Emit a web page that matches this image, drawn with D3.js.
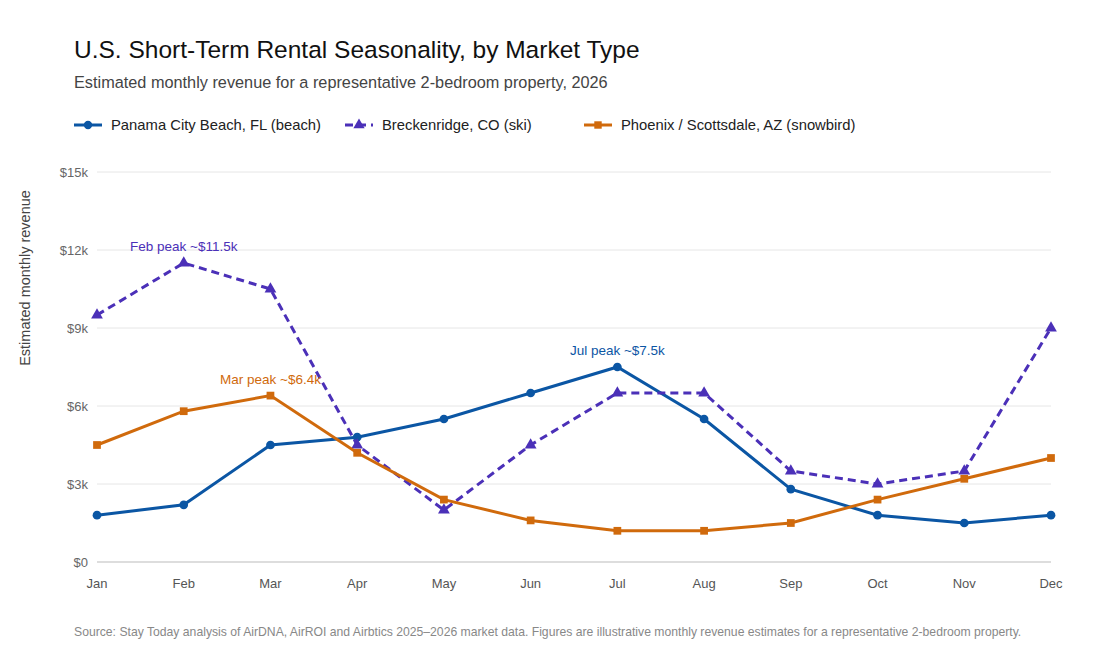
<!DOCTYPE html>
<html>
<head>
<meta charset="utf-8">
<script src="https://d3js.org/d3.v7.min.js"></script>
<style>
  body { margin: 0; background: #fff; }
  svg text { font-family: "Liberation Sans", Arial, sans-serif; }
</style>
</head>
<body>
<div id="chart"></div>
<script>
var months = ["Jan","Feb","Mar","Apr","May","Jun","Jul","Aug","Sep","Oct","Nov","Dec"];
var beach = [1.8, 2.2, 4.5, 4.8, 5.5, 6.5, 7.5, 5.5, 2.8, 1.8, 1.5, 1.8];
var ski = [9.5, 11.5, 10.5, 4.5, 2.0, 4.5, 6.5, 6.5, 3.5, 3.0, 3.5, 9.0];
var snowbird = [4.5, 5.8, 6.4, 4.2, 2.4, 1.6, 1.2, 1.2, 1.5, 2.4, 3.2, 4.0];
var yTicks = [0, 3, 6, 9, 12, 15];
var yTickLabels = ["$0", "$3k", "$6k", "$9k", "$12k", "$15k"];

var series = [
  { name: "Panama City Beach, FL (beach)", vals: beach, color: "#0b56a4", dash: null, shape: d3.symbolCircle, ann: { i: 6, text: "Jul peak ~$7.5k" } },
  { name: "Breckenridge, CO (ski)", vals: ski, color: "#4b30b8", dash: "8,5", shape: d3.symbolTriangle, ann: { i: 1, text: "Feb peak ~$11.5k" } },
  { name: "Phoenix / Scottsdale, AZ (snowbird)", vals: snowbird, color: "#d06a0c", dash: null, shape: d3.symbolSquare, ann: { i: 2, text: "Mar peak ~$6.4k" } }
];

var W = 1100, H = 660;
var svg = d3.select("#chart").append("svg").attr("width", W).attr("height", H);

var x = d3.scalePoint().domain(months).range([97, 1051]);
var y = d3.scaleLinear().domain([0, 15]).range([562, 172]);

svg.append("text").attr("x", 74).attr("y", 58).attr("font-size", 24.5).attr("fill", "#111")
  .text("U.S. Short-Term Rental Seasonality, by Market Type");
svg.append("text").attr("x", 74).attr("y", 88).attr("font-size", 16.3).attr("fill", "#444")
  .text("Estimated monthly revenue for a representative 2-bedroom property, 2026");

// legend
var legX = [74, 345, 584];
series.forEach(function(s, k) {
  var g = svg.append("g").attr("transform", "translate(" + legX[k] + ",125)");
  g.append("line").attr("x1", 0).attr("x2", 28).attr("stroke", s.color).attr("stroke-width", 3)
    .attr("stroke-dasharray", s.dash);
  g.append("path").attr("d", d3.symbol().type(s.shape).size(55)()).attr("transform", "translate(14,0)").attr("fill", s.color);
  g.append("text").attr("x", 37).attr("y", 5).attr("font-size", 14.8).attr("fill", "#222").text(s.name);
});

// grid
svg.append("g").selectAll("line").data(yTicks).enter().append("line")
  .attr("x1", 97).attr("x2", 1051)
  .attr("y1", function(d) { return y(d); }).attr("y2", function(d) { return y(d); })
  .attr("stroke", function(d) { return d === 0 ? "#bbb" : "#e6e6e6"; });

svg.append("g").selectAll("text").data(yTicks).enter().append("text")
  .attr("x", 88).attr("y", function(d) { return y(d) + 5; })
  .attr("text-anchor", "end").attr("font-size", 13).attr("fill", "#666")
  .text(function(d, i) { return yTickLabels[i]; });

svg.append("g").selectAll("text").data(months).enter().append("text")
  .attr("x", function(d) { return x(d); }).attr("y", 588)
  .attr("text-anchor", "middle").attr("font-size", 13).attr("fill", "#555")
  .text(function(d) { return d; });

svg.append("text").attr("transform", "translate(30,278) rotate(-90)")
  .attr("text-anchor", "middle").attr("font-size", 14.5).attr("fill", "#444")
  .text("Estimated monthly revenue");

var line = d3.line().x(function(d, i) { return x(months[i]); }).y(function(d) { return y(d); });

series.forEach(function(s) {
  svg.append("path").datum(s.vals).attr("d", line).attr("fill", "none")
    .attr("stroke", s.color).attr("stroke-width", 3).attr("stroke-dasharray", s.dash);
  svg.append("g").selectAll("path").data(s.vals).enter().append("path")
    .attr("d", d3.symbol().type(s.shape).size(60)())
    .attr("transform", function(d, i) { return "translate(" + x(months[i]) + "," + y(d) + ")"; })
    .attr("fill", s.color);
  svg.append("text").attr("x", x(months[s.ann.i])).attr("y", y(s.vals[s.ann.i]) - 12)
    .attr("text-anchor", "middle").attr("font-size", 13.5).attr("fill", s.color).text(s.ann.text);
});

svg.append("text").attr("x", 74).attr("y", 636).attr("font-size", 12.2).attr("fill", "#888")
  .text("Source: Stay Today analysis of AirDNA, AirROI and Airbtics 2025\u20132026 market data. Figures are illustrative monthly revenue estimates for a representative 2-bedroom property.");
</script>
</body>
</html>
